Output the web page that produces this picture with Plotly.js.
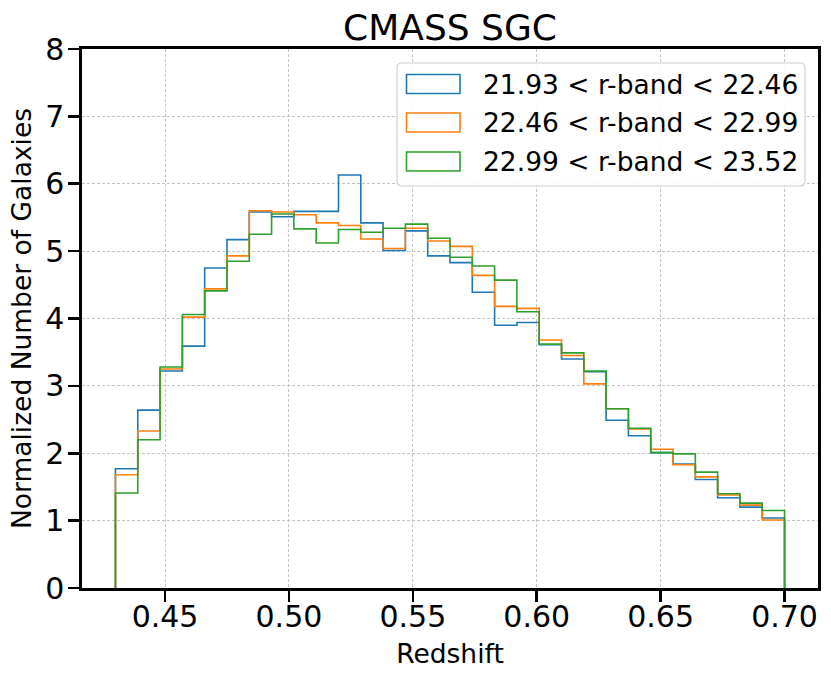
<!DOCTYPE html>
<html>
<head>
<meta charset="utf-8">
<script src="https://cdn.plot.ly/plotly-3.0.1.min.js"></script>
<style>html,body{margin:0;padding:0;background:#fff;}#chart{width:831px;height:680px;}</style>
</head>
<body>
<div id="chart"></div>
<script>
// ---- data ----
const binStart = 0.43;
const binWidth = 0.009;
const seriesNames = ["21.93 < r-band < 22.46", "22.46 < r-band < 22.99", "22.99 < r-band < 23.52"];
const seriesColors = ["#1f77b4", "#ff7f0e", "#2ca02c"];
const bright = [1.77,2.64,3.22,3.59,4.75,5.17,5.58,5.51,5.59,5.59,6.13,5.42,5.01,5.30,4.93,4.83,4.39,3.90,3.94,3.61,3.40,3.21,2.49,2.26,2.01,1.84,1.61,1.34,1.20,1.04];
const middle = [1.68,2.33,3.25,4.02,4.44,4.93,5.60,5.58,5.54,5.42,5.38,5.18,5.04,5.34,5.15,5.07,4.64,4.18,4.15,3.68,3.45,3.03,2.66,2.36,2.06,1.83,1.65,1.38,1.23,1.01];
const faint  = [1.41,2.20,3.28,4.06,4.41,4.85,5.25,5.55,5.33,5.12,5.32,5.28,5.34,5.40,5.19,4.91,4.78,4.57,4.10,3.62,3.49,3.22,2.66,2.37,2.01,1.99,1.72,1.40,1.26,1.15];
const xTickVals = [0.45, 0.50, 0.55, 0.60, 0.65, 0.70];
const xTickText = ["0.45", "0.50", "0.55", "0.60", "0.65", "0.70"];
const yTickVals = [0,1,2,3,4,5,6,7,8];
const titleText = "CMASS SGC";
const xLabel = "Redshift";
const yLabel = "Normalized Number of Galaxies";

// ---- build step outlines (matplotlib histtype='step') ----
function stepTrace(vals, name, color) {
  const xs = [binStart], ys = [0];
  for (let i = 0; i < vals.length; i++) { xs.push(binStart + i * binWidth); ys.push(vals[i]); }
  xs.push(binStart + vals.length * binWidth); ys.push(0);
  return {type: "scatter", mode: "lines", x: xs, y: ys, name: name,
          line: {shape: "hv", color: color, width: 1.6}, showlegend: false, hoverinfo: "skip"};
}
const allSeries = [bright, middle, faint];
const traces = allSeries.map((v, i) => stepTrace(v, seriesNames[i], seriesColors[i]));

// ---- layout geometry (pixels) ----
const W = 831, H = 680, L = 82, R = 818, T = 49, B = 588;
const px = x => (x - L) / (R - L);
const py = y => (B - y) / (B - T);
const font = "DejaVu Sans, sans-serif";

// legend box (rounded)
const lx0 = 397, lx1 = 805, ly0 = 63, ly1 = 186, rr = 5;
const rx = rr / (R - L), ry = rr / (B - T);
const X0 = px(lx0), X1 = px(lx1), Y0 = py(ly1), Y1 = py(ly0);
const legendPath = `M ${X0+rx},${Y0} L ${X1-rx},${Y0} Q ${X1},${Y0} ${X1},${Y0+ry} L ${X1},${Y1-ry} Q ${X1},${Y1} ${X1-rx},${Y1} L ${X0+rx},${Y1} Q ${X0},${Y1} ${X0},${Y1-ry} L ${X0},${Y0+ry} Q ${X0},${Y0} ${X0+rx},${Y0} Z`;
const shapes = [{type: "path", xref: "paper", yref: "paper", path: legendPath,
  fillcolor: "rgba(255,255,255,0.9)", line: {color: "#d0d0d0", width: 1.2}, layer: "above"}];
const annotations = [];
const rowCenters = [84, 122.5, 161.5];
seriesNames.forEach((n, i) => {
  const c = rowCenters[i];
  shapes.push({type: "rect", xref: "paper", yref: "paper",
    x0: px(406.5), x1: px(460), y0: py(c + 9.5), y1: py(c - 9.5),
    line: {color: seriesColors[i], width: 1.6}, fillcolor: "rgba(0,0,0,0)", layer: "above"});
  annotations.push({xref: "paper", yref: "paper", x: px(481), y: py(c), xanchor: "left", yanchor: "middle",
    text: n, showarrow: false, font: {family: font, size: 26.5, color: "#000"}});
});

const axisCommon = {
  showline: true, linecolor: "#000", linewidth: 2.6, mirror: true,
  ticks: "outside", ticklen: 11, tickwidth: 2.6, tickcolor: "#000",
  showgrid: true, gridcolor: "#c4c4c4", gridwidth: 1, griddash: "3px,2px",
  zeroline: false, tickfont: {family: font, size: 30, color: "#000"}
};

const layout = {
  width: W, height: H,
  margin: {l: L, r: W - R, t: T, b: H - B, pad: 0},
  paper_bgcolor: "#fff", plot_bgcolor: "#fff",
  font: {family: font, color: "#000"},
  title: {text: titleText, font: {family: font, size: 36, color: "#000"},
          x: px(450), xref: "paper", y: 1 - 27 / H, yref: "container", yanchor: "middle", xanchor: "center"},
  xaxis: Object.assign({}, axisCommon, {
    range: [0.4165, 0.7135], tickvals: xTickVals, ticktext: xTickText, ticklabelstandoff: -11,
    title: {text: xLabel, font: {family: font, size: 26.5, color: "#000"}, standoff: 12}
  }),
  yaxis: Object.assign({}, axisCommon, {
    range: [0, 8], tickvals: yTickVals, ticklabelstandoff: -2,
    title: {text: yLabel, font: {family: font, size: 26.5, color: "#000"}, standoff: 6}
  }),
  shapes: shapes, annotations: annotations, showlegend: false
};

Plotly.newPlot("chart", traces, layout, {staticPlot: true, displayModeBar: false});
</script>
</body>
</html>
